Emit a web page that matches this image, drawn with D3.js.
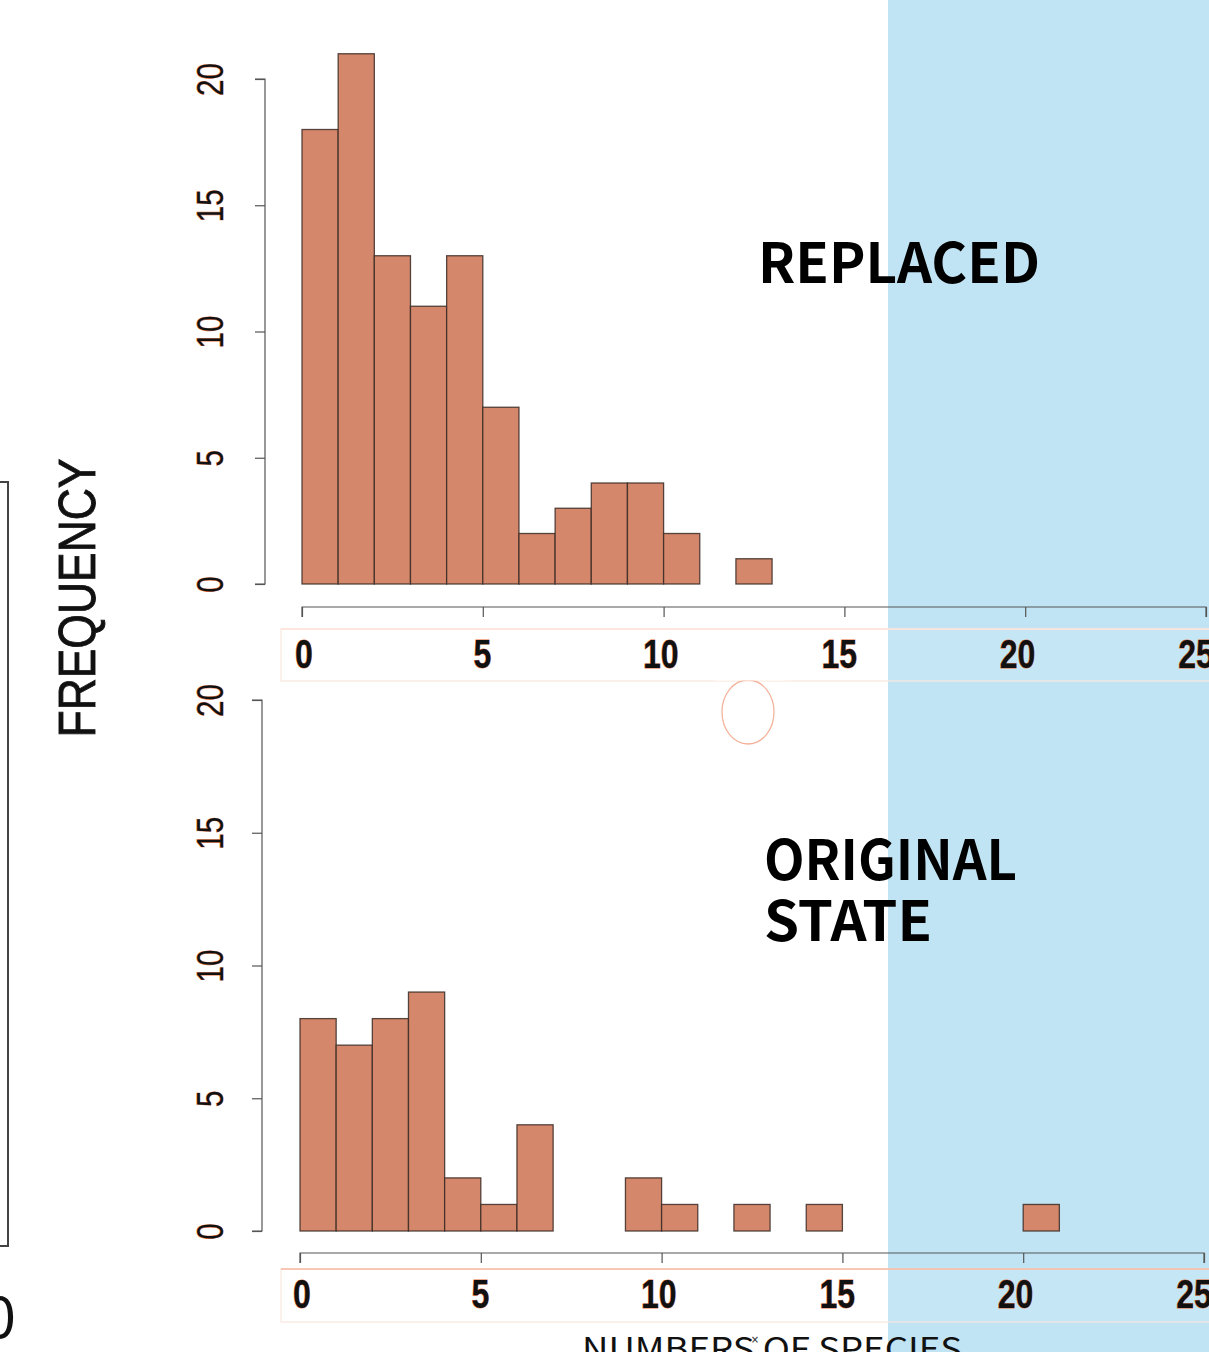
<!DOCTYPE html>
<html><head><meta charset="utf-8">
<script src="https://cdn.jsdelivr.net/npm/d3@7"></script>
<style>
html,body{margin:0;padding:0;background:#fff;overflow:hidden}
svg{display:block}
</style></head>
<body>
<script>
// ---- data ----
const binStarts = d3.range(0, 25);               // histogram bins of width 1: [k, k+1)
const replacedCounts = [18,21,13,11,13,7,2,3,4,4,2,0,1,0,0,0,0,0,0,0,0,0,0,0,0];
const originalCounts = [8,7,8,9,2,1,4,0,0,2,1,0,1,0,1,0,0,0,0,0,1,0,0,0,0];
const xTicks = [0,5,10,15,20,25];
const yTicks = [0,5,10,15,20];
const panelLabels = [["REPLACED"], ["ORIGINAL","STATE"]];
const yTitle = "FREQUENCY";
const xTitle = "NUMBERS OF SPECIES";

const W = 1209, H = 1352;
const NARROW = "Liberation Sans Narrow, Arial Narrow, Liberation Sans, Arial, sans-serif";
const svg = d3.select("body").append("svg").attr("width", W).attr("height", H);

// blue background panel
svg.append("rect").attr("x", 888).attr("y", 0).attr("width", W - 888).attr("height", H)
  .attr("fill", "#c1e4f4");

// left partial frame
svg.append("path").attr("d", "M0,482 H8 V1246 H0").attr("fill", "none")
  .attr("stroke", "#444").attr("stroke-width", 2);
svg.append("text").attr("x", 16).attr("y", 1338).attr("text-anchor", "end")
  .attr("font-family", "Noto Sans CJK JP, Noto Sans").attr("font-size", 58).attr("fill", "#111").text("0");

// y title
svg.append("text").attr("transform", "translate(95,598) rotate(-90)")
  .attr("text-anchor", "middle").attr("font-family", NARROW)
  .attr("font-size", 52).attr("fill", "#111").attr("stroke", "#111").attr("stroke-width", 0.9)
  .attr("textLength", 279).attr("lengthAdjust", "spacingAndGlyphs").text(yTitle);

const panels = [
  {counts: replacedCounts, x0: 302, x1: 1206, y0: 584, y20: 79, yAxisX: 265, xAxisY: 607,
   box: [281, 629, 681], lblY: 668, labels: panelLabels[0], labelX: 758, labelY: 283,
   widths: [282], boxTop: "#fde3d9"},
  {counts: originalCounts, x0: 300, x1: 1204, y0: 1231, y20: 700, yAxisX: 262, xAxisY: 1253,
   box: [281, 1269, 1322], lblY: 1308, labels: panelLabels[1], labelX: 764, labelY: 880,
   widths: [253, 168], boxTop: "#f6b9a2"}
];

panels.forEach((p, i) => {
  const x = d3.scaleLinear().domain([0, 25]).range([p.x0, p.x1]);
  const y = d3.scaleLinear().domain([0, 20]).range([p.y0, p.y20]);
  const g = svg.append("g");

  // bars
  g.selectAll("rect.bar").data(binStarts).join("rect").attr("class", "bar")
    .attr("x", d => x(d)).attr("width", d => x(d + 1) - x(d))
    .attr("y", d => y(p.counts[d])).attr("height", d => y(0) - y(p.counts[d]))
    .attr("fill", "#d4876a").attr("stroke", "#3b2b26").attr("stroke-opacity", 0.85).attr("stroke-width", 1.3);

  // y axis
  const ya = g.append("g").attr("transform", `translate(${p.yAxisX},0)`)
    .call(d3.axisLeft(y).tickValues(yTicks).tickSize(10).tickFormat(d3.format("d")));
  ya.select(".domain").attr("stroke", "#555").attr("stroke-width", 1.2).attr("d", `M-10,${y(0)}H0V${y(20)}H-10`);
  ya.selectAll(".tick line").attr("stroke", "#555").attr("stroke-width", 1.2);
  ya.selectAll(".tick text")
    .attr("x", null).attr("dy", null)
    .attr("transform", `translate(${210 - p.yAxisX},0) rotate(-90) scale(0.8,1)`)
    .attr("text-anchor", "middle").attr("dominant-baseline", "central")
    .attr("font-family", NARROW).attr("font-size", 37)
    .attr("fill", "#111").attr("stroke", "#e8703f").attr("stroke-width", 0.8).attr("paint-order", "stroke");

  // x axis
  const xa = g.append("g").attr("transform", `translate(0,${p.xAxisY})`)
    .call(d3.axisBottom(x).tickValues(xTicks).tickSize(10).tickFormat(""));
  xa.select(".domain").attr("stroke", "#555").attr("stroke-width", 1.2).attr("d", `M${x(0)},10V0H${x(25)}V10`);
  xa.selectAll(".tick line").attr("stroke", "#555").attr("stroke-width", 1.2);

  // label box
  g.append("rect").attr("x", p.box[0]).attr("y", p.box[1]).attr("width", W - p.box[0] + 5)
    .attr("height", p.box[2] - p.box[1]).attr("fill", "rgba(255,255,255,0.08)")
    .attr("stroke", "#fbe6de").attr("stroke-width", 1.2);
  g.append("line").attr("x1", p.box[0]).attr("x2", W).attr("y1", p.box[1]).attr("y2", p.box[1])
    .attr("stroke", p.boxTop).attr("stroke-width", 1.5);

  const xl = d3.scaleLinear().domain([0, 25]).range([p.x0 + 2, p.x1 - 10]);
  g.selectAll("text.xl").data(xTicks).join("text").attr("class", "xl")
    .attr("transform", d => `translate(${xl(d)},${p.lblY}) scale(0.8,1)`)
    .attr("text-anchor", "middle")
    .attr("font-family", NARROW).attr("font-weight", "bold")
    .attr("font-size", 40).attr("fill", "#111").attr("stroke", "#e8703f").attr("stroke-width", 0.9)
    .attr("paint-order", "stroke").text(d => d);

  // panel label
  const t = g.append("text").attr("font-family", "Noto Sans CJK JP, Noto Sans, sans-serif")
    .attr("font-weight", "bold").attr("font-size", 55).attr("fill", "#000");
  p.labels.forEach((s, k) => t.append("tspan").attr("x", p.labelX).attr("y", p.labelY + k * 61)
    .attr("textLength", p.widths[k]).attr("lengthAdjust", "spacingAndGlyphs").text(s));
});

// ellipse decoration under the upper label box
svg.append("ellipse").attr("cx", 748).attr("cy", 712).attr("rx", 26).attr("ry", 32)
  .attr("fill", "none").attr("stroke", "#f4b49b").attr("stroke-width", 1.3);
svg.append("rect").attr("x", 715).attr("y", 660).attr("width", 70).attr("height", 20.5).attr("fill", "#fff");

// x title (cut off at bottom)
svg.append("text").attr("x", 772).attr("y", 1361).attr("text-anchor", "middle")
  .attr("font-family", "Noto Sans CJK JP, Noto Sans, sans-serif").attr("font-size", 32)
  .attr("fill", "#111").attr("textLength", 380).attr("lengthAdjust", "spacingAndGlyphs").text(xTitle);
svg.append("text").attr("x", 755).attr("y", 1343).attr("text-anchor", "middle")
  .attr("font-family", "DejaVu Sans").attr("font-size", 10).attr("fill", "#222").text("×");
</script>
</body></html>
